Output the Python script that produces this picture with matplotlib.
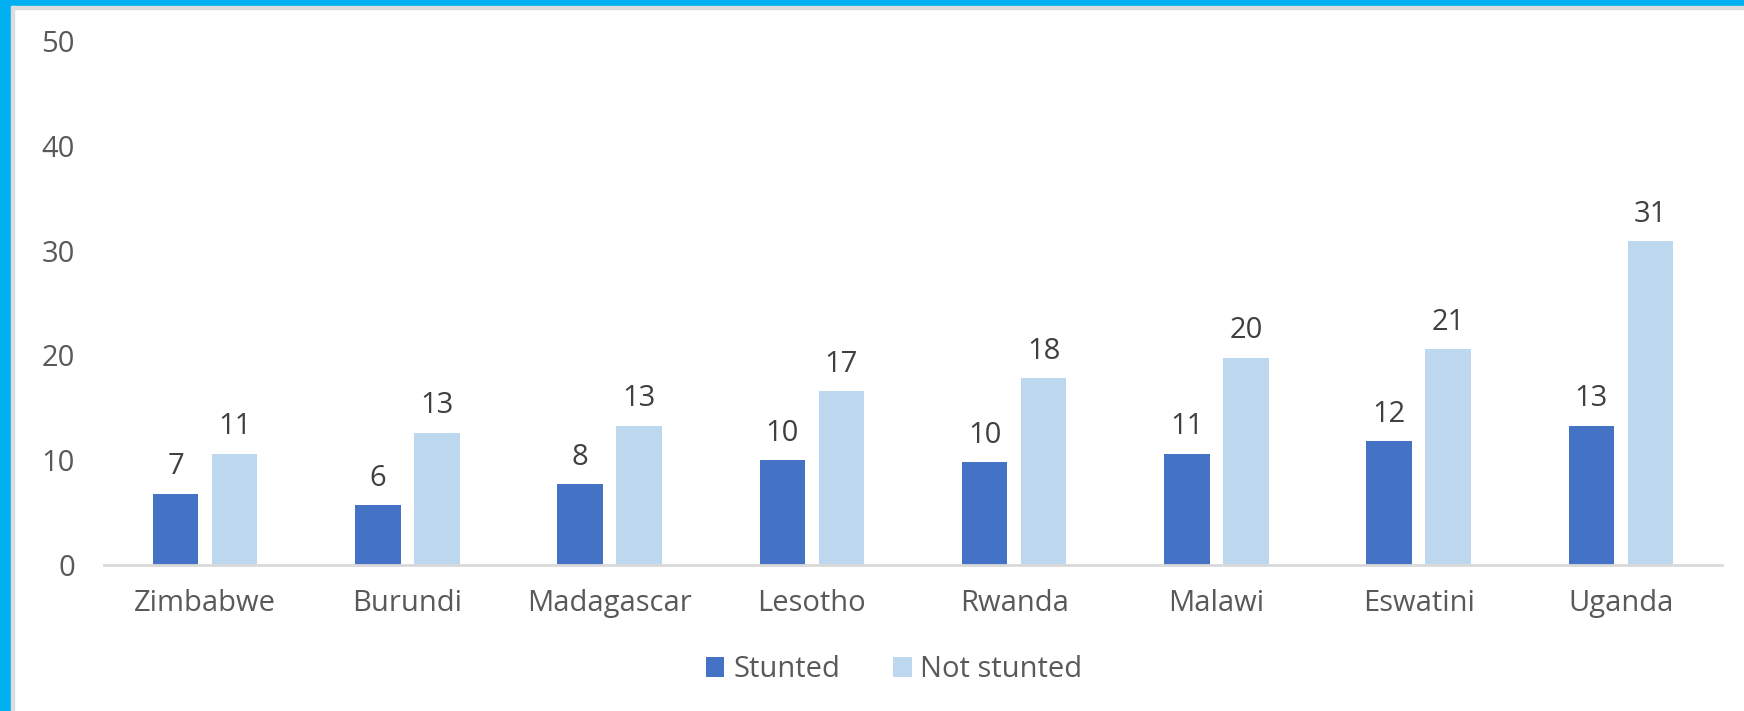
"""Stunted vs not stunted, by country - grouped bar chart."""

import matplotlib.pyplot as plt
import numpy as np
from matplotlib.patches import Rectangle

countries = ["Zimbabwe", "Burundi", "Madagascar", "Lesotho",
             "Rwanda", "Malawi", "Eswatini", "Uganda"]
stunted = [6.8, 5.7, 7.7, 10.0, 9.8, 10.6, 11.8, 13.3]
not_stunted = [10.6, 12.6, 13.3, 16.6, 17.8, 19.8, 20.6, 30.9]
series_names = ["Stunted", "Not stunted"]
yticks = [0, 10, 20, 30, 40, 50]

DARK = "#4472C4"
LIGHT = "#BDD7EE"
GREY_TXT = "#595959"
FS = 21

plt.rcParams["font.family"] = ["Open Sans", "DejaVu Sans"]

fig = plt.figure(figsize=(17.44, 7.11), dpi=100)
ax = fig.add_axes([0.0596, 0.2053, 0.9278, 0.7370])

x = np.arange(len(countries))
w = 0.225
off = 0.146
b1 = ax.bar(x - off, stunted, w, color=DARK, label=series_names[0])
b2 = ax.bar(x + off, not_stunted, w, color=LIGHT, label=series_names[1])

for bars, vals in ((b1, stunted), (b2, not_stunted)):
    for rect, v in zip(bars, vals):
        ax.annotate(f"{v:.0f}", (rect.get_x() + rect.get_width() / 2, v),
                    textcoords="offset points", xytext=(0, 9),
                    ha="center", va="bottom", fontsize=FS, color="#404040")

ax.set_xlim(-0.5, len(countries) - 0.5)
ax.set_ylim(0, 50)
ax.set_yticks(yticks)
ax.set_xticks(x)
ax.set_xticklabels(countries)
ax.tick_params(axis="both", length=0, labelsize=FS, labelcolor=GREY_TXT)
ax.tick_params(axis="x", pad=17)
ax.tick_params(axis="y", pad=21)
for s in ("top", "right", "left"):
    ax.spines[s].set_visible(False)
ax.spines["bottom"].set_color("#D9D9D9")
ax.spines["bottom"].set_linewidth(2)

leg = fig.legend(loc="center", bbox_to_anchor=(0.5126, 0.058), ncol=2,
                 frameon=False, fontsize=FS, handlelength=0.65, handleheight=0.65,
                 handletextpad=0.3, columnspacing=1.8)
for t in leg.get_texts():
    t.set_color(GREY_TXT)

# frame around the image: cyan outer band with a thin grey inner line
W, H = 1744, 711
fig.patches.append(Rectangle((0, 1 - 6 / H), 1, 6 / H, transform=fig.transFigure,
                             color="#00B0F0", zorder=10))
fig.patches.append(Rectangle((11 / W, 1 - 9 / H), 1, 3 / H, transform=fig.transFigure,
                             color="#DCDCDC", zorder=10))
fig.patches.append(Rectangle((0, 0), 11 / W, 1, transform=fig.transFigure,
                             color="#00B0F0", zorder=10))
fig.patches.append(Rectangle((11 / W, 0), 3 / W, 1 - 6 / H, transform=fig.transFigure,
                             color="#DCDCDC", zorder=10))

fig.savefig("out.png", dpi=100)
